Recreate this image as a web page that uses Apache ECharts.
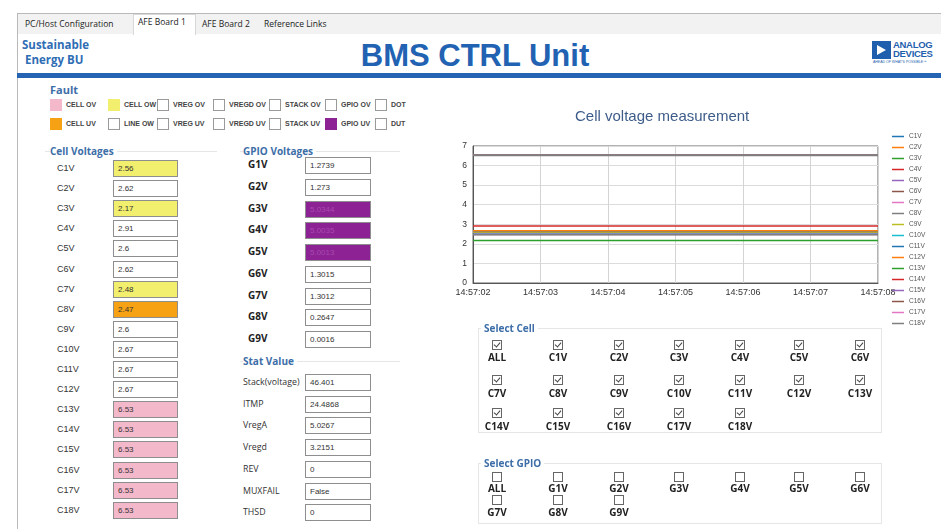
<!DOCTYPE html>
<html>
<head>
<meta charset="utf-8">
<title>BMS CTRL Unit</title>
<script src="https://cdn.jsdelivr.net/npm/echarts@6/dist/echarts.min.js"></script>
<style>
body { margin: 0; background: #fff; font-family: "Liberation Sans", Arial, sans-serif; }
#app { position: relative; width: 941px; height: 529px; overflow: hidden; background: #fff; }
#app div { position: absolute; box-sizing: border-box; white-space: nowrap; }
.ui { font-family: "Open Sans", "Noto Sans", sans-serif; }
.hdr { font-family: "Open Sans", sans-serif; font-weight: bold; font-size: 10px; color: #3d6ea8; line-height: 12px; }
.box { border: 1px solid #8e8e8e; background: #fff; height: 17px; font-size: 8px; line-height: 15px; padding-left: 4px; color: #333; }
.grp { border: 1px solid #e6e6e6; }
.fbox { width: 12px; height: 12px; border: 1px solid #9a9a9a; background: #fff; }
.ftxt { font-size: 7px; font-weight: bold; color: #444; line-height: 10px; }
.chk { width: 10px; height: 10px; border: 1px solid #666; background: #fff; }
.chk.on::after { content: ""; position: absolute; left: 2px; top: 0px; width: 3px; height: 5px; border-right: 1.3px solid #444; border-bottom: 1.3px solid #444; transform: rotate(40deg); }
.clab { font-family: "Open Sans", sans-serif; font-weight: bold; font-size: 10px; color: #222; line-height: 12px; text-align: center; width: 40px; }
</style>
</head>
<body>
<div id="app">
  <div style="left:0;top:0;width:941px;height:13px;background:#fff;"></div>
  <div style="left:17px;top:13px;width:924px;height:1px;background:#b9b9b9;"></div>
  <div style="left:17px;top:13px;width:1px;height:516px;background:#b9b9b9;"></div>
  <div style="left:18px;top:14px;width:923px;height:20px;background:#f2f2f2;"></div>
  <div style="left:133px;top:14px;width:63px;height:21px;background:#fff;border:1px solid #d8d8d8;border-bottom:none;"></div>
  <div id="tabs"></div>
  <div class="ui" style="left:22px;top:37px;font-size:11.5px;font-weight:bold;color:#2f6db5;line-height:15px;">Sustainable<br>&nbsp;Energy BU</div>
  <div style="left:300px;top:38px;width:350px;text-align:center;font-size:31px;font-weight:bold;color:#2262b2;">BMS CTRL Unit</div>
  <div style="left:872px;top:41px;width:19px;height:18px;background:#1f5fae;"></div>
  <div style="left:877px;top:45px;width:0;height:0;border-top:5px solid transparent;border-bottom:5px solid transparent;border-left:9px solid #fff;"></div>
  <div style="left:893px;top:40px;font-size:9.5px;font-weight:bold;color:#1f5fae;line-height:9px;letter-spacing:-0.3px;">ANALOG<br>DEVICES</div>
  <div style="left:873px;top:60px;font-size:3.5px;color:#1f5fae;">AHEAD OF WHAT'S POSSIBLE&trade;</div>
  <div style="left:17px;top:73px;width:924px;height:5px;background:#2563b3;"></div>
  <div class="hdr" style="left:50px;top:84px;font-size:11px;">Fault</div>
  <div id="fault"></div>
  <div class="grp" style="left:45px;top:151px;width:172px;height:375px;border-left:none;border-bottom:none;border-right:none;"></div>
  <div class="hdr" style="left:50px;top:145px;background:#fff;padding-right:3px;">Cell Voltages</div>
  <div id="cells"></div>
  <div class="grp" style="left:240px;top:151px;width:160px;height:1px;border-width:1px 0 0 0;"></div>
  <div class="hdr" style="left:243px;top:145px;background:#fff;padding-right:3px;">GPIO Voltages</div>
  <div id="gpio"></div>
  <div class="grp" style="left:240px;top:361px;width:160px;height:1px;border-width:1px 0 0 0;"></div>
  <div class="hdr" style="left:243px;top:355px;background:#fff;padding-right:3px;">Stat Value</div>
  <div id="stat"></div>
  <div id="main" style="left:440px;top:95px;width:501px;height:245px;"></div>
  <div class="grp" style="left:478px;top:328px;width:404px;height:105px;"></div>
  <div class="hdr" style="left:481px;top:322px;background:#fff;padding:0 3px;">Select Cell</div>
  <div id="selcell"></div>
  <div class="grp" style="left:478px;top:463px;width:404px;height:61px;"></div>
  <div class="hdr" style="left:481px;top:457px;background:#fff;padding:0 3px;">Select GPIO</div>
  <div id="selgpio"></div>
</div>
<script>
var tabNames = ['PC/Host Configuration', 'AFE Board 1', 'AFE Board 2', 'Reference Links'];
var faultRow1 = ['CELL OV', 'CELL OW', 'VREG OV', 'VREGD OV', 'STACK OV', 'GPIO OV', 'DOT'];
var faultRow2 = ['CELL UV', 'LINE OW', 'VREG UV', 'VREGD UV', 'STACK UV', 'GPIO UV', 'DUT'];
var cellNames = ['C1V', 'C2V', 'C3V', 'C4V', 'C5V', 'C6V', 'C7V', 'C8V', 'C9V',
                 'C10V', 'C11V', 'C12V', 'C13V', 'C14V', 'C15V', 'C16V', 'C17V', 'C18V'];
var cellVoltages = [2.56, 2.62, 2.17, 2.91, 2.6, 2.62, 2.48, 2.47, 2.6,
                    2.67, 2.67, 2.67, 6.53, 6.53, 6.53, 6.53, 6.53, 6.53];
var cellFault = ['ow', '', 'ow', '', '', '', 'ow', 'uv', '',
                 '', '', '', 'ov', 'ov', 'ov', 'ov', 'ov', 'ov'];
var gpioNames = ['G1V', 'G2V', 'G3V', 'G4V', 'G5V', 'G6V', 'G7V', 'G8V', 'G9V'];
var gpioValues = ['1.2739', '1.273', '5.0344', '5.0035', '5.0013', '1.3015', '1.3012', '0.2647', '0.0016'];
var gpioFault = ['', '', 'uv', 'uv', 'uv', '', '', '', ''];
var statNames = ['Stack(voltage)', 'ITMP', 'VregA', 'Vregd', 'REV', 'MUXFAIL', 'THSD'];
var statValues = ['46.401', '24.4868', '5.0267', '3.2151', '0', 'False', '0'];
var times = ['14:57:02', '14:57:03', '14:57:04', '14:57:05', '14:57:06', '14:57:07', '14:57:08'];

var fillColors = { ov: '#f3b8ca', ow: '#f2ee6e', uv: '#f6a214', gpio: '#8d2294' };
var lineColors = ['#1f77b4', '#ff7f0e', '#2ca02c', '#d62728', '#9467bd', '#8c564b', '#e377c2', '#7f7f7f', '#bcbd22', '#17becf'];

function el(parent, cls, style, html) {
    var d = document.createElement('div');
    if (cls) d.className = cls;
    d.style.cssText = style;
    if (html !== undefined) d.innerHTML = html;
    document.getElementById(parent).appendChild(d);
    return d;
}

// tabs
var tabX = [25, 138, 202, 264];
tabNames.forEach(function (t, i) {
    el('tabs', 'ui', 'left:' + tabX[i] + 'px;top:' + (i === 1 ? 16 : 18) + 'px;font-size:8.5px;color:#222;line-height:12px;', t);
});

// fault indicators
var faultX = [50, 108, 157, 213, 269, 325, 375];
var faultFill1 = ['ov', 'ow', '', '', '', '', ''];
var faultFill2 = ['uv', '', '', '', '', 'gpio', ''];
[[faultRow1, faultFill1, 99], [faultRow2, faultFill2, 118]].forEach(function (row) {
    row[0].forEach(function (name, i) {
        var f = row[1][i];
        el('fault', 'fbox', 'left:' + faultX[i] + 'px;top:' + row[2] + 'px;' +
            (f ? 'background:' + fillColors[f] + ';border-color:' + fillColors[f] + ';' : ''));
        el('fault', 'ftxt', 'left:' + (faultX[i] + 16) + 'px;top:' + (row[2] + 1) + 'px;', name);
    });
});

// cell voltages
cellNames.forEach(function (name, i) {
    var y = 168 + i * 20.1;
    el('cells', '', 'left:57px;top:' + (y - 6) + 'px;font-size:9px;color:#333;line-height:12px;', name);
    var f = cellFault[i];
    el('cells', 'box', 'left:113px;top:' + (y - 8) + 'px;width:65px;' +
        (f ? 'background:' + fillColors[f] + ';' : ''), String(cellVoltages[i]));
});

// gpio voltages
gpioNames.forEach(function (name, i) {
    var y = 165 + i * 21.75;
    el('gpio', 'ui', 'left:248px;top:' + (y - 7) + 'px;font-size:10px;font-weight:bold;color:#222;line-height:13px;', name);
    var purple = gpioFault[i] ? 'background:' + fillColors.gpio + ';color:#a84aae;' : '';
    el('gpio', 'box', 'left:305px;top:' + (y - 8) + 'px;width:66px;' + purple, gpioValues[i]);
});

// stat values
statNames.forEach(function (name, i) {
    var y = 382 + i * 21.7;
    el('stat', 'ui', 'left:243px;top:' + (y - 6) + 'px;font-size:8.8px;color:#333;line-height:12px;', name);
    el('stat', 'box', 'left:305px;top:' + (y - 8) + 'px;width:66px;', statValues[i]);
});

// check boxes
var colX = [497, 558, 619, 679, 740, 799, 860];
function checkGrid(parent, names, on, boxY, labY) {
    names.forEach(function (name, i) {
        var c = i % 7, r = Math.floor(i / 7);
        el(parent, 'chk' + (on ? ' on' : ''), 'left:' + (colX[c] - 5) + 'px;top:' + (boxY[r] - 5) + 'px;');
        el(parent, 'clab', 'left:' + (colX[c] - 20) + 'px;top:' + (labY[r] - 6) + 'px;', name);
    });
}
checkGrid('selcell', ['ALL'].concat(cellNames), true, [345, 380, 413], [357, 393, 426]);
checkGrid('selgpio', ['ALL'].concat(gpioNames), false, [477, 500], [488, 512]);

// chart
var chart = echarts.init(document.getElementById('main'));
var series = cellNames.map(function (name, i) {
    return {
        name: name,
        type: 'line',
        symbol: 'none',
        animation: false,
        data: times.map(function () { return cellVoltages[i]; }),
        lineStyle: { width: i === 17 ? 2 : 1.5 }
    };
});
chart.setOption({
    color: lineColors,
    animation: false,
    title: {
        text: 'Cell voltage measurement',
        left: 130,
        top: 9,
        textStyle: { fontFamily: 'Liberation Sans', fontSize: 15, fontWeight: 'normal', color: '#3e5c8a' }
    },
    legend: {
        orient: 'vertical',
        left: 447,
        top: 33,
        height: 205,
        icon: 'rect',
        itemWidth: 12,
        itemHeight: 1.5,
        itemGap: 4,
        textStyle: { fontSize: 6.5, lineHeight: 7, color: '#555', fontFamily: 'Liberation Sans' },
        data: cellNames
    },
    grid: { left: 33, top: 51, width: 405, height: 137, show: true, borderColor: '#666', borderWidth: 1 },
    xAxis: {
        type: 'category',
        data: times,
        boundaryGap: false,
        axisLine: { lineStyle: { color: '#555' } },
        axisTick: { show: false },
        axisLabel: { fontSize: 9, color: '#333', margin: 5, interval: 0, fontFamily: 'Liberation Sans' },
        splitLine: { show: true, lineStyle: { color: '#d4d4d4' } }
    },
    yAxis: {
        type: 'value',
        min: 0,
        max: 7,
        interval: 1,
        axisLine: { show: true, lineStyle: { color: '#555' } },
        axisTick: { show: false },
        axisLabel: { fontSize: 8.5, color: '#333', margin: 6, fontFamily: 'Liberation Sans' },
        splitLine: { lineStyle: { color: '#dcdcdc' } }
    },
    series: series
});
</script>
</body>
</html>
